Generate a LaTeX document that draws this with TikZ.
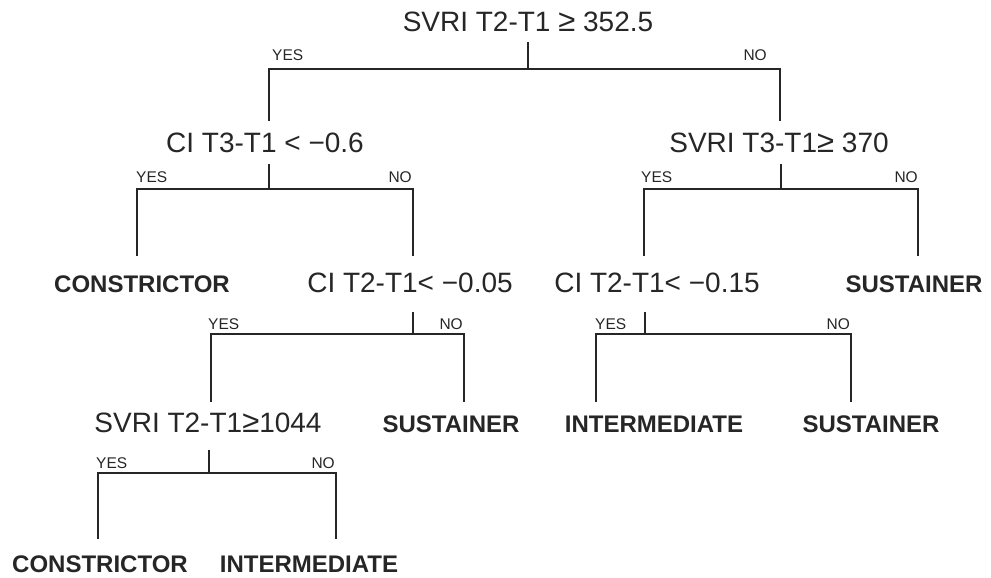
\documentclass[tikz,border=0pt]{standalone}
\usepackage{fontspec}
\setmainfont{Liberation Sans}
\definecolor{ink}{HTML}{262626}
\newcommand{\mygeq}{{\fontsize{31}{32}\selectfont ≥}}
\tikzset{
  cond/.style={anchor=base, inner sep=0pt, text=ink, font=\fontsize{28}{32}\selectfont},
  leaf/.style={anchor=base, inner sep=0pt, text=ink, font=\fontsize{24}{28}\selectfont\bfseries},
  yes/.style={anchor=base west, inner sep=0pt, text=ink, font=\fontsize{15.5}{18}\selectfont},
  no/.style={anchor=base east, inner sep=0pt, text=ink, font=\fontsize{15.5}{18}\selectfont},
  branch/.style={draw=ink, line width=2.7pt, line join=miter},
}
\begin{document}
\begin{tikzpicture}[x=1pt,y=-1pt]
\useasboundingbox[fill=white] (0,0) rectangle (991,578);
% ---- labels ----
\node[cond] (root) at (528,32) {SVRI T2-T1 \mygeq{} 352.5};
\node[cond] (ci1) at (265,152) {CI T3-T1 < −0.6};
\node[cond] (sv2) at (779,152) {SVRI T3-T1\mygeq{} 370};
\node[leaf] (con1) at (142,292) {CONSTRICTOR};
\node[cond] (ci2) at (410,292) {CI T2-T1< −0.05};
\node[cond] (ci3) at (657,292) {CI T2-T1< −0.15};
\node[leaf] (sus1) at (914,292) {SUSTAINER};
\node[cond] (sv3) at (208,432) {SVRI T2-T1\mygeq{}1044};
\node[leaf] (sus2) at (451,432) {SUSTAINER};
\node[leaf] (int1) at (654,432) {INTERMEDIATE};
\node[leaf] (sus3) at (871,432) {SUSTAINER};
\node[leaf] (con2) at (100,572) {CONSTRICTOR};
\node[leaf] (int2) at (309,572) {INTERMEDIATE};
% ---- yes/no ----
\node[yes] (y1) at (272,61) {YES};  \node[no] (n1) at (767,61) {NO};
\node[yes] (y2) at (136,182) {YES}; \node[no] (n2) at (412,182) {NO};
\node[yes] (y3) at (641,182) {YES}; \node[no] (n3) at (918,182) {NO};
\node[yes] (y4) at (208,329) {YES}; \node[no] (n4) at (463,329) {NO};
\node[yes] (y5) at (595,329) {YES}; \node[no] (n5) at (850,329) {NO};
\node[yes] (y6) at (96,468) {YES};  \node[no] (n6) at (335,468) {NO};
% ---- split 1 ----
\coordinate (a0) at (528,42); \coordinate (a1) at (528,69);
\coordinate (aLt) at (269,69); \coordinate (aLb) at (269,121);
\coordinate (aRt) at (780,69); \coordinate (aRb) at (780,121);
\draw[branch] (a0) -- (a1);
\draw[branch] (aLb) -- (aLt) -- (aRt) -- (aRb);
% ---- split 2 (left) ----
\coordinate (b0) at (269,164); \coordinate (b1) at (269,189);
\coordinate (bLt) at (137,189); \coordinate (bLb) at (137,256);
\coordinate (bRt) at (413,189); \coordinate (bRb) at (413,256);
\draw[branch] (b0) -- (b1);
\draw[branch] (bLb) -- (bLt) -- (bRt) -- (bRb);
% ---- split 3 (right) ----
\coordinate (c0) at (781,164); \coordinate (c1) at (781,189);
\coordinate (cLt) at (644,189); \coordinate (cLb) at (644,256);
\coordinate (cRt) at (918,189); \coordinate (cRb) at (918,256);
\draw[branch] (c0) -- (c1);
\draw[branch] (cLb) -- (cLt) -- (cRt) -- (cRb);
% ---- split 4 ----
\coordinate (d0) at (413,312); \coordinate (d1) at (413,334);
\coordinate (dLt) at (211,334); \coordinate (dLb) at (211,402);
\coordinate (dRt) at (464,334); \coordinate (dRb) at (464,402);
\draw[branch] (d0) -- (d1);
\draw[branch] (dLb) -- (dLt) -- (dRt) -- (dRb);
% ---- split 5 ----
\coordinate (e0) at (645,312); \coordinate (e1) at (645,334);
\coordinate (eLt) at (596,334); \coordinate (eLb) at (596,402);
\coordinate (eRt) at (851,334); \coordinate (eRb) at (851,402);
\draw[branch] (e0) -- (e1);
\draw[branch] (eLb) -- (eLt) -- (eRt) -- (eRb);
% ---- split 6 ----
\coordinate (f0) at (209,450); \coordinate (f1) at (209,473);
\coordinate (fLt) at (98,473); \coordinate (fLb) at (98,539);
\coordinate (fRt) at (336,473); \coordinate (fRb) at (336,539);
\draw[branch] (f0) -- (f1);
\draw[branch] (fLb) -- (fLt) -- (fRt) -- (fRb);
\end{tikzpicture}
\end{document}
